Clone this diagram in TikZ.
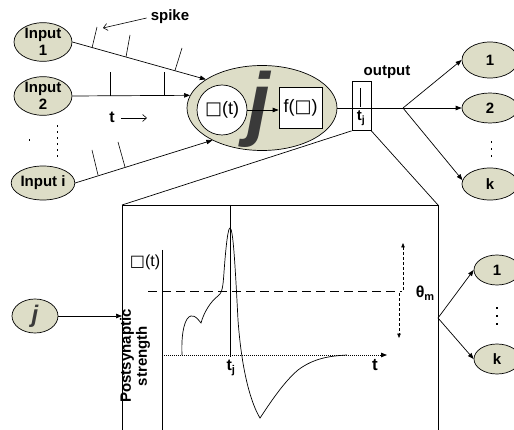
\documentclass[tikz,border=0pt]{standalone}
\usepackage{fontspec}
\setmainfont{Liberation Sans}
\newfontfamily\symfont{DejaVu Sans}
\usetikzlibrary{arrows.meta,shapes.geometric,calc}
\definecolor{cellfill}{RGB}{221,221,199}
\definecolor{jgrey}{RGB}{58,58,58}
\tikzset{
  cell/.style={ellipse, draw, fill=cellfill, inner sep=0pt, align=center,
    line width=0.7pt, font=\bfseries\fontsize{15}{17}\selectfont},
  conn/.style={-{Triangle[length=6pt,width=4.5pt]}, line width=0.7pt},
  plain/.style={line width=0.7pt},
  barb/.style={-{Straight Barb[length=4pt,width=7pt]}, line width=0.6pt},
  tickmark/.style={line width=0.6pt},
  lbl/.style={font=\bfseries\fontsize{15}{15}\selectfont, inner sep=0pt},
  dotmark/.style={fill=black},
}
\begin{document}
\begin{tikzpicture}[x=1pt,y=-1pt]
\useasboundingbox (0,0) rectangle (514,430);

% ---------- lower frame and lines to output box ----------
\node[draw, plain, minimum width=19pt, minimum height=49pt, inner sep=0pt] (ob) at (361.5,106) {};
\coordinate (rTL) at (122,205);
\coordinate (rTR) at (438,205);
\coordinate (rBL) at (122,432);
\coordinate (rBR) at (438,432);
\draw[plain] (rBL) -- (rTL) -- (rTR) -- (rBR);
\draw[plain] (ob.south west) -- (rTL);
\draw[plain] (ob.south east) -- (rTR);

% ---------- neuron j ----------
\node[ellipse, draw, plain, fill=cellfill, minimum width=150pt, minimum height=85pt] (J) at (262,108) {};
\node[font=\bfseries\itshape\fontsize{82}{82}\selectfont, text=jgrey, anchor=base, inner sep=0pt] (jbig) at (259,131) {j};
\node[circle, draw, plain, fill=white, minimum size=50pt, inner sep=0pt,
      font=\fontsize{18}{18}\selectfont] (u) at (222,110) {{\symfont □}(t)};
\node[draw, plain, fill=white, minimum width=43pt, minimum height=41pt, inner sep=0pt,
      font=\fontsize{18}{18}\selectfont] (f) at (300.5,107.5) {f({\symfont □})};
\draw[conn] (u.east) -- (u.east -| f.west);

% ---------- inputs ----------
\node[cell, minimum width=58pt, minimum height=36pt] (in1) at (43,42) {Input\\1};
\node[cell, minimum width=58pt, minimum height=36pt] (in2) at (43,96) {Input\\2};
\node[cell, minimum width=58pt, minimum height=34pt] (ini) at (43,183) {Input i};
\draw[conn] (in1.east) -- (J.153);
\draw[conn] (in2.east) -- (J.170);
\draw[conn] (ini.east) -- (J.213);

% spikes
\draw[tickmark] (92,48) -- (97,27);
\draw[tickmark] (126,57) -- (130,35);
\draw[tickmark] (175,70.5) -- (182,48);
\draw[tickmark] (110,96) -- (110,72);
\draw[tickmark] (164,96) -- (164,72);
\draw[tickmark] (98,175) -- (92,150);
\draw[tickmark] (125,167) -- (118,142);

\node[lbl] (spk) at (170,17) {spike};
\draw[barb] (spk.west) ++(-4,1) -- (103,28);
\node[lbl, font=\bfseries\fontsize{16}{16}\selectfont] (tt) at (112,117) {t};
\coordinate (tarr) at (147,118);
\draw[barb] (tt.east) ++(6,1) -- (tarr);

% dots on the left
\foreach \y in {125,131,...,155} \fill[dotmark] (56.5,\y) rectangle +(1.8,1.8);
\fill[dotmark] (28.5,139.5) rectangle +(1.8,1.8);

% ---------- output ----------
\coordinate (fan) at (403,108);
\draw[plain] (J.east) -- (fan);
\draw[plain] (360,88) -- (360,107);
\node[lbl] (tj) at (361,118) {t\textsubscript{j}};
\node[lbl] (outl) at (387,72) {output};

\node[cell, minimum width=56pt, minimum height=36pt] (o1) at (490,60) {1};
\node[cell, minimum width=56pt, minimum height=30pt] (o2) at (490,108) {2};
\node[cell, minimum width=56pt, minimum height=32pt] (ok) at (490,184) {k};
\draw[conn] (fan) -- (o1.west);
\draw[conn] (fan) -- (o2.west);
\draw[conn] (fan) -- (ok.172);
\foreach \y in {141,148,155} \fill[dotmark] (490.5,\y) rectangle +(1.8,1.8);

% ---------- lower plot ----------
\node[cell, minimum width=46pt, minimum height=34pt, text=jgrey,
      font=\bfseries\itshape\fontsize{24}{24}\selectfont] (jl) at (35,316) {j};
\coordinate (rin) at (122,316);
\draw[conn] (jl.east) -- (rin);

\coordinate (orig) at (162,355);
\coordinate (yax) at (162,250);
\coordinate (ybot) at (162,430);
\coordinate (xend) at (387,355);
\draw[plain] (yax) -- (ybot);
\draw[line width=0.8pt, dash pattern=on 1.2pt off 0.8pt, -{Triangle[length=6pt,width=4.5pt]}] (orig) -- (xend);
\draw[plain] (230,205) -- (230,357);

\draw[line width=0.8pt, dash pattern=on 9pt off 5pt] (148,291) -- (402,291);
\draw[line width=0.6pt, dash pattern=on 3pt off 2pt, -{Triangle[length=4.5pt,width=3.5pt]}] (403,290) -- (403,243);
\draw[line width=0.6pt, dash pattern=on 3pt off 2pt, -{Triangle[length=4.5pt,width=3.5pt]}] (399,293) -- (399,338);

% postsynaptic potential curve
\draw[line width=0.7pt]
  (182,355) .. controls (181,332) and (185,317) .. (191,316)
  .. controls (196,315) and (199,321) .. (201,323)
  .. controls (204,312) and (211,301) .. (218,296)
  .. controls (222,293) and (223,288) .. (224,272)
  .. controls (226,245) and (228,228) .. (230,228)
  .. controls (233,228) and (235,262) .. (238,320)
  .. controls (242,375) and (252,405) .. (260,418)
  .. controls (272,400) and (284,382) .. (298,370)
  .. controls (314,358) and (330,356) .. (347,355);

\node[inner sep=0pt, font=\fontsize{16}{16}\selectfont] (ulab) at (145,262) {{\symfont □}(t)};
\node[lbl, font=\bfseries\fontsize{16}{16}\selectfont] (tjl) at (231,368) {t\textsubscript{j}};
\node[lbl, font=\bfseries\fontsize{17}{17}\selectfont] (tl) at (375,365) {t};
\node[lbl, rotate=90, align=center, font=\bfseries\fontsize{15}{16}\selectfont] (ps) at (135,356) {Postsynaptic\\strength};
\node[lbl, font=\bfseries\fontsize{16}{16}\selectfont] (theta) at (425,293) {θ\raisebox{-2.5pt}{\fontsize{11}{11}\selectfont m}};

\coordinate (fan2) at (438,318);
\node[cell, minimum width=46pt, minimum height=30pt] (l1) at (497,270) {1};
\node[cell, minimum width=46pt, minimum height=30pt] (lk) at (497,359) {k};
\draw[conn] (fan2) -- (l1.west);
\draw[conn] (fan2) -- (lk.west);
\foreach \y in {307,315,323} \fill[dotmark] (496,\y) rectangle +(1.8,1.8);
\end{tikzpicture}
\end{document}
